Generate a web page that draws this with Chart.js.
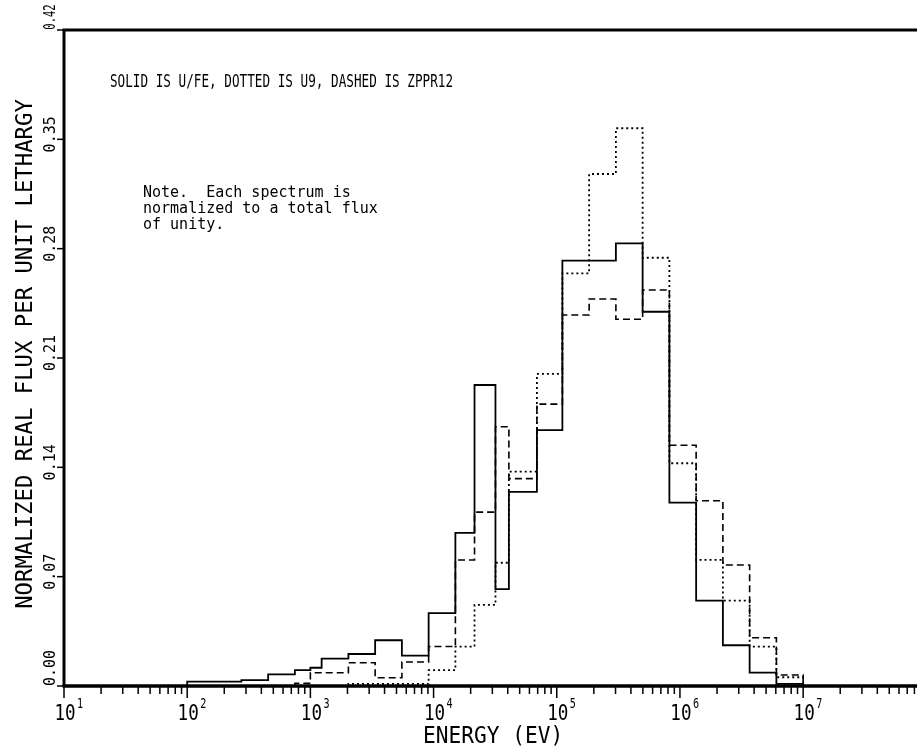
<!DOCTYPE html>
<html>
<head>
<meta charset="utf-8">
<script src="https://cdn.jsdelivr.net/npm/chart.js@4"></script>
<style>
  html, body { margin: 0; padding: 0; background: #fff; }
  #wrap { width: 917px; height: 746px; }
</style>
</head>
<body>
<div id="wrap"><canvas id="chart" width="917" height="746"></canvas></div>
<script>
// group boundaries (eV), low to high; last edge is the right end of the axis
const EDGES = [10, 100, 275.4, 454.0, 748.5, 1000, 1234, 2035, 3355, 5531, 9119, 15034, 21500, 31800,
  40868, 69000, 111090, 183156, 301974, 497871, 820850, 1353353, 2231302, 3678794, 6065307, 1e7, 8.4e7]

// flux per unit lethargy in each group (one value per interval of EDGES)
const SOLID_UFE = [0, 0.0028, 0.0038, 0.0075, 0.0102, 0.0117, 0.0175, 0.0205, 0.0293, 0.0195, 0.0467,
  0.0980, 0.1927, 0.0620, 0.1243, 0.1638, 0.2723, 0.2723, 0.2834, 0.2396, 0.1174, 0.0546, 0.0261, 0.0085, 0.0013, 0]
const DOTTED_U9 = [0, 0, 0, 0, 0, 0, 0, 0.0013, 0.0013, 0.0013, 0.0102,
  0.0252, 0.0519, 0.0789, 0.1372, 0.1998, 0.2642, 0.3278, 0.3571, 0.2742, 0.1426, 0.0807, 0.0546, 0.0252, 0.0056, 0]
const DASHED_ZPPR12 = [0, 0, 0, 0, 0.0017, 0.0085, 0.0085, 0.0149, 0.0053, 0.0154, 0.0253,
  0.0807, 0.1113, 0.1660, 0.1328, 0.1805, 0.2375, 0.2478, 0.2348, 0.2535, 0.1541, 0.1186, 0.0775, 0.0309, 0.0070, 0]

const Y_TICKS = [0.00, 0.07, 0.14, 0.21, 0.28, 0.35, 0.42]
const X_DECADES = [1, 2, 3, 4, 5, 6, 7]
const MINOR_MULT = [2, 3, 4, 5, 6, 7, 8, 9]

const TITLE = 'SOLID IS U/FE, DOTTED IS U9, DASHED IS ZPPR12'
const NOTE = ['Note.  Each spectrum is', 'normalized to a total flux', 'of unity.']
const X_TITLE = 'ENERGY (EV)'
const Y_TITLE = 'NORMALIZED REAL FLUX PER UNIT LETHARGY'

const FONT = '"DejaVu Sans Mono", "Liberation Mono", monospace'

// histogram -> step points (segment [e_i, e_i+1] at v_i)
function steps(values) {
  const pts = values.map((v, i) => ({ x: EDGES[i], y: v }))
  pts.push({ x: EDGES[EDGES.length - 1], y: values[values.length - 1] })
  return pts
}

function text(ctx, s, x, y, size, sx, align, rot) {
  ctx.save()
  ctx.translate(x, y)
  if (rot) ctx.rotate(rot)
  ctx.scale(sx, 1)
  ctx.font = `${size}px ${FONT}`
  ctx.textAlign = align
  ctx.textBaseline = 'alphabetic'
  ctx.fillText(s, 0, 0)
  ctx.restore()
}

const frame = {
  id: 'frame',
  afterDraw(chart) {
    const { ctx, chartArea: a, scales: { x, y } } = chart
    ctx.save()
    ctx.strokeStyle = '#000'
    ctx.fillStyle = '#000'

    // frame: left + top, heavy bottom axis
    ctx.lineWidth = 3
    ctx.beginPath()
    ctx.moveTo(a.left, a.bottom)
    ctx.lineTo(a.left, a.top)
    ctx.lineTo(a.right, a.top)
    ctx.stroke()
    ctx.lineWidth = 3.5
    ctx.beginPath()
    ctx.moveTo(a.left - 1.5, a.bottom)
    ctx.lineTo(a.right, a.bottom)
    ctx.stroke()

    // x ticks
    ctx.lineWidth = 1.5
    X_DECADES.forEach(d => {
      [1, ...MINOR_MULT].forEach(m => {
        const px = x.getPixelForValue(m * 10 ** d)
        if (px > a.right + 0.5) return
        ctx.beginPath()
        ctx.moveTo(px, a.bottom)
        ctx.lineTo(px, a.bottom + (m === 1 ? 12 : 8))
        ctx.stroke()
      })
      const px = x.getPixelForValue(10 ** d)
      text(ctx, '10', px + 1, 720, 22, 0.8, 'center')
      text(ctx, String(d), px + 13, 708, 13.5, 0.75, 'left')
    })

    // y ticks
    Y_TICKS.forEach((v, i) => {
      const py = y.getPixelForValue(v)
      ctx.beginPath()
      ctx.moveTo(a.left - 7, py)
      ctx.lineTo(a.left, py)
      ctx.stroke()
      const lbl = v.toFixed(2)
      if (i === 0) text(ctx, lbl, 55, py, 15, 1, 'left', -Math.PI / 2)
      else if (i === Y_TICKS.length - 1) text(ctx, lbl, 55, py - 13, 15, 0.7, 'center', -Math.PI / 2)
      else text(ctx, lbl, 55, py - 5, 15, 1, 'center', -Math.PI / 2)
    })

    // titles and notes
    text(ctx, Y_TITLE, 31.5, 354, 22.5, 0.99, 'center', -Math.PI / 2)
    text(ctx, X_TITLE, 423, 743, 23, 0.92, 'left')
    text(ctx, TITLE, 110, 86.5, 17.4, 0.728, 'left')
    NOTE.forEach((line, i) => text(ctx, line, 143, 197 + i * 16, 15, 1, 'left'))
    ctx.restore()
  },
}

new Chart(document.getElementById('chart'), {
  type: 'line',
  data: {
    datasets: [
      { label: 'U/FE', data: steps(SOLID_UFE), borderColor: '#000', borderWidth: 1.8, stepped: 'before' },
      { label: 'ZPPR12', data: steps(DASHED_ZPPR12), borderColor: '#000', borderWidth: 1.6, borderDash: [7, 4], stepped: 'before' },
      { label: 'U9', data: steps(DOTTED_U9), borderColor: '#000', borderWidth: 1.8, borderDash: [2, 3], stepped: 'before' },
    ],
  },
  options: {
    responsive: false,
    animation: false,
    devicePixelRatio: 1,
    layout: { padding: { left: 64, right: 0, top: 30, bottom: 60 } },
    elements: { point: { radius: 0 }, line: { tension: 0, fill: false } },
    datasets: { line: { clip: false } },
    scales: {
      x: { type: 'logarithmic', min: 10, max: 8.4e7, display: false },
      y: { type: 'linear', min: 0, max: 0.42, display: false },
    },
    plugins: { legend: { display: false }, tooltip: { enabled: false } },
  },
  plugins: [frame],
})
</script>
</body>
</html>
